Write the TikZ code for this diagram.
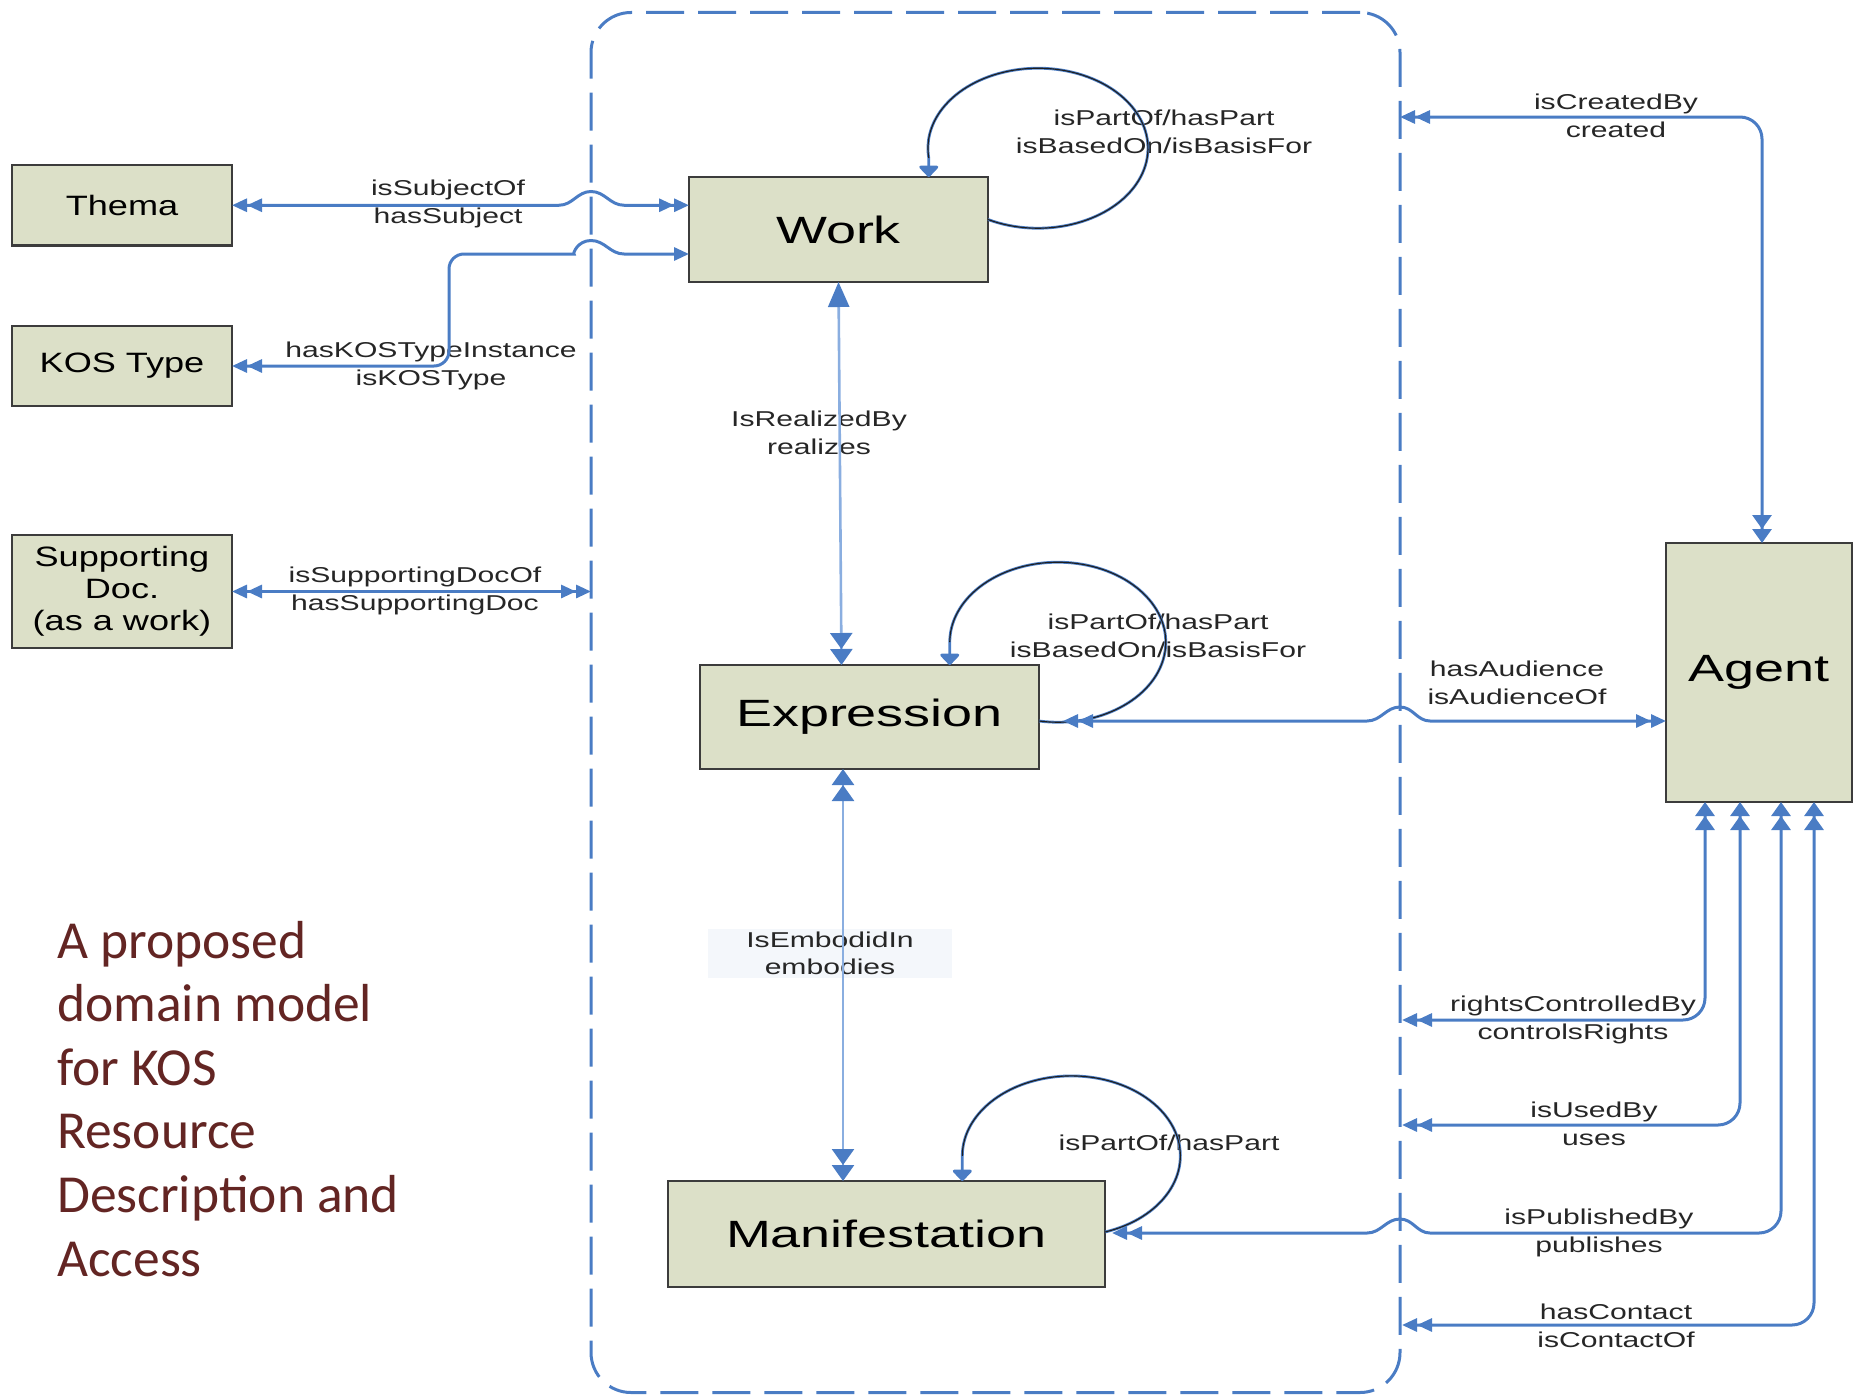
\documentclass[tikz,border=0pt]{standalone}
\usepackage{fontspec}
\setmainfont{Liberation Sans}
\newfontfamily\labfont[FakeStretch=1.4]{Liberation Sans}
\newfontfamily\bigfont[FakeStretch=1.42]{Liberation Sans}
\newfontfamily\smfont[FakeStretch=1.29]{Liberation Sans}
\newfontfamily\titlefont{Carlito}
\usetikzlibrary{arrows.meta}
\definecolor{lineblue}{HTML}{4A7CC4}
\definecolor{paleblue}{HTML}{8AAEE0}
\definecolor{boxfill}{HTML}{DCE0C8}
\definecolor{boxline}{HTML}{3C3C3C}
\definecolor{titlered}{HTML}{632523}
\definecolor{labgray}{HTML}{262626}
\definecolor{labbg}{HTML}{F4F7FB}
\definecolor{loopdark}{HTML}{1E1E1E}
\begin{document}
\begin{tikzpicture}[x=1pt,y=-1pt,
  aHH/.style={arrows={Triangle[length=15pt,width=13pt]Triangle[length=15pt,width=13pt]}-{Triangle[length=15pt,width=13pt]Triangle[length=15pt,width=13pt]}},
  aHS/.style={arrows={Triangle[length=15pt,width=13pt]Triangle[length=15pt,width=13pt]}-{Triangle[length=15pt,width=13pt]}},
  aVH/.style={arrows={Triangle[length=14pt,width=19pt]Triangle[length=14pt,width=19pt]}-{Triangle[length=15pt,width=13pt]Triangle[length=15pt,width=13pt]}},
  aReal/.style={arrows={Triangle[length=25pt,width=21pt,color=lineblue]}-{Triangle[length=16pt,width=22pt,color=lineblue]Triangle[length=16pt,width=22pt,color=lineblue]}},
  aEmb/.style={arrows={Triangle[length=16pt,width=22pt,color=lineblue]Triangle[length=16pt,width=22pt,color=lineblue]}-{Triangle[length=16pt,width=22pt,color=lineblue]Triangle[length=16pt,width=22pt,color=lineblue]}},
  aLoop/.style={arrows=-{Triangle[round,length=12pt,width=22pt,color=lineblue]}},
  box/.style={draw=boxline, line width=2.5pt, fill=boxfill, inner sep=0pt, outer sep=0pt, text=black},
  bigbox/.style={box, font=\bigfont\fontsize{38}{44}\selectfont},
  smbox/.style={box, font=\smfont\fontsize{28}{32}\selectfont, align=center},
  conn/.style={draw=lineblue, line width=3pt},
  paleconn/.style={draw=paleblue, line width=2.6pt},
  loopb/.style={draw=lineblue, line width=2.8pt},
  loopk/.style={draw=loopdark, line width=1.1pt},
  lab/.style={font=\labfont\fontsize{21.5}{27.5}\selectfont, text=labgray, align=center, inner sep=0pt},
  titleline/.style={font=\titlefont\fontsize{53.5}{63}\selectfont, text=titlered, anchor=base west, inner sep=0pt},
  framebox/.style={draw=lineblue, line width=3pt, dash pattern=on 38pt off 14pt, rounded corners=40pt, inner sep=0pt, outer sep=0pt}
]
\useasboundingbox (0,0) rectangle (1854,1397);

% dashed container
\node[framebox, minimum width=809pt, minimum height=1380pt] (fr) at (995.5,702.5) {};

% boxes
\node[smbox, minimum width=220pt, minimum height=80.5pt] (thema) at (122,205.25) {Thema};
\node[smbox, minimum width=220pt, minimum height=80pt] (kos) at (122,366) {KOS Type};
\node[smbox, minimum width=220pt, minimum height=113pt] (supp) at (122,591.5) {Supporting\\Doc.\\(as a work)};
\node[bigbox, minimum width=299pt, minimum height=105pt] (work) at (838.5,229.5) {Work};
\node[bigbox, minimum width=339pt, minimum height=104pt] (expr) at (869.5,717) {Expression};
\node[bigbox, minimum width=437pt, minimum height=106pt] (manif) at (886.5,1234) {Manifestation};
\node[bigbox, minimum width=186pt, minimum height=259pt] (agent) at (1759,672.5) {Agent};

% title
\node[titleline] (t1) at (57,958) {A proposed};
\node[titleline] (t2) at (57,1021.6) {domain model};
\node[titleline] (t3) at (57,1085.2) {for KOS};
\node[titleline] (t4) at (57,1148.8) {Resource};
\node[titleline] (t5) at (57,1212.4) {Description and};
\node[titleline] (t6) at (57,1276) {Access};

% labels
\node[lab] (lsub) at (448,204) {isSubjectOf\\hasSubject};
\node[lab] (lkos) at (431,366) {hasKOSTypeInstance\\isKOSType};
\node[lab] (lsup) at (415,591) {isSupportingDocOf\\hasSupportingDoc};
\node[lab] (lreal) at (819,433) {IsRealizedBy\\realizes};
\node[lab] (lwl) at (1164,132) {isPartOf/hasPart\\isBasedOn/isBasisFor};
\node[lab] (lel) at (1158,636) {isPartOf/hasPart\\isBasedOn/isBasisFor};
\node[lab, fill=labbg, minimum width=244pt, minimum height=49pt] (lemb) at (830,953.5) {IsEmbodidIn\\embodies};
\node[lab] (lml) at (1169,1143) {isPartOf/hasPart};
\node[lab] (laud) at (1517,683) {hasAudience\\isAudienceOf};
\node[lab] (lcre) at (1616,116) {isCreatedBy\\created};
\node[lab] (lrig) at (1573,1020) {rightsControlledBy\\controlsRights};
\node[lab] (luse) at (1594,1124) {isUsedBy\\uses};
\node[lab] (lpub) at (1599,1233) {isPublishedBy\\publishes};
\node[lab] (lcon) at (1616,1326) {hasContact\\isContactOf};

% left connectors
\draw[conn, aHH] (thema.east) -- (559,205.25) to[out=0,in=180] (591,191.5) to[out=0,in=180] (624,205.25) -- ([yshift=24.25pt]work.west);
\draw[conn, aHS] (kos.east) [rounded corners=15pt] -| (449,254) -- (559,254) [sharp corners] to[out=0,in=180] (591,240.5) to[out=0,in=180] (624,254) -- ([yshift=-24.5pt]work.west);
\draw[conn, aHH] (supp.east) -- (supp.east -| fr.west);

% vertical connectors
\draw[paleconn, aReal] (work.south) -- ([xshift=3pt]work.south |- expr.north);
\draw[paleconn, aEmb] ([xshift=-26.5pt]expr.south) -- ([xshift=-26.5pt]expr.south |- manif.north);

% self loops
\draw[loopb, aLoop] ([yshift=10pt]work.east) arc[start angle=-117, end angle=187, x radius=110pt, y radius=80pt] -- ++(0,19.05);
\draw[loopk] ([yshift=10pt]work.east) arc[start angle=-117, end angle=187, x radius=110pt, y radius=80pt];
\draw[loopb, aLoop] ([yshift=-4pt]expr.east) arc[start angle=-100, end angle=180, x radius=108pt, y radius=80pt] -- ++(0,22.8);
\draw[loopk] ([yshift=-4pt]expr.east) arc[start angle=-100, end angle=180, x radius=108pt, y radius=80pt];
\draw[loopb, aLoop] ([yshift=2pt]manif.east) arc[start angle=-72, end angle=180, x radius=109pt, y radius=80pt] -- ++(0,25.1);
\draw[loopk] ([yshift=2pt]manif.east) arc[start angle=-72, end angle=180, x radius=109pt, y radius=80pt];

% right connectors
\draw[conn, aHH, shorten <=24pt] ([yshift=-4pt]expr.east) -- (1367,721) to[out=0,in=180] (1400,707) to[out=0,in=180] (1430,721) -- ([yshift=-48.5pt]agent.west);
\draw[conn, aVH, rounded corners=22pt] ([xshift=3pt]agent.north) |- (fr.east |- 0,117);
\draw[conn, aVH, rounded corners=22pt, shorten >=2pt] ([xshift=-54pt]agent.south) |- (fr.east |- 0,1020);
\draw[conn, aVH, rounded corners=22pt, shorten >=2pt] ([xshift=-19pt]agent.south) |- (fr.east |- 0,1125);
\draw[conn, aVH, shorten >=7pt] ([xshift=22pt]agent.south) -- (1781,1211) arc[start angle=0, end angle=-90, radius=22pt] -- (1430,1233) to[out=180,in=0] (1400,1219) to[out=180,in=0] (1367,1233) -- ([yshift=1pt]manif.east);
\draw[conn, aVH, rounded corners=22pt, shorten >=2pt] ([xshift=55pt]agent.south) |- (fr.east |- 0,1325);
\end{tikzpicture}
\end{document}
